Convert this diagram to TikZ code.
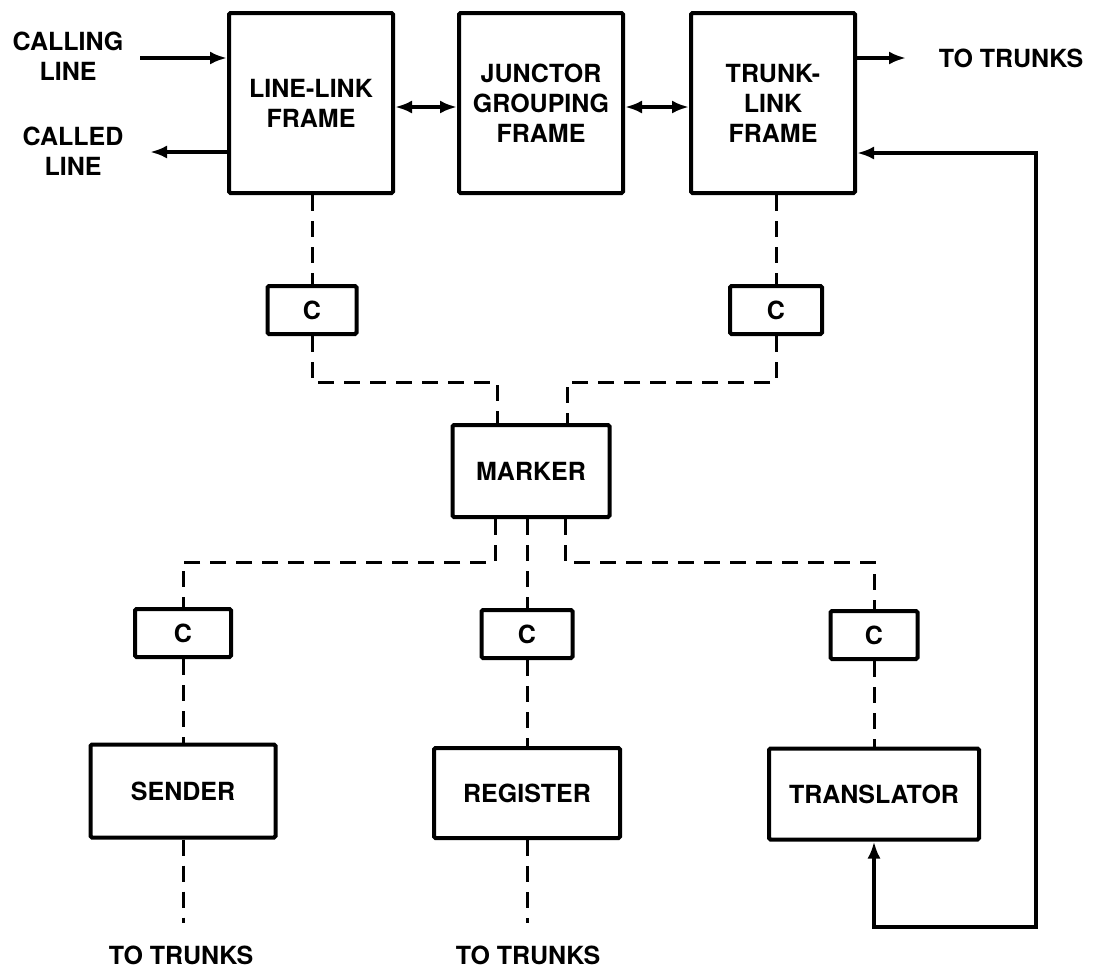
\documentclass[tikz,border=0pt]{standalone}
\usepackage{fontspec}
\setmainfont{TeX Gyre Heros}
\usetikzlibrary{arrows.meta}

\tikzset{
  blockbox/.style={draw, line width=4pt, rounded corners=1.5pt, align=center,
    inner sep=0pt, font=\bfseries\fontsize{25}{30}\selectfont},
  cbox/.style={blockbox, minimum height=48pt},
  ctrl/.style={line width=3pt, dash pattern=on 16pt off 10pt},
  sig/.style={line width=4pt},
  lbl/.style={align=center, inner sep=0pt, font=\bfseries\fontsize{25}{30}\selectfont}
}

\begin{document}
\begin{tikzpicture}[x=1pt, y=-1pt, >={Latex[length=17pt,width=13pt]}]
    \useasboundingbox (0,0) rectangle (1110,970);

    % Switching frames
    \node[blockbox, minimum width=164pt, minimum height=180pt] (linelink) at (311,103) {LINE-LINK\\FRAME};
    \node[blockbox, minimum width=164pt, minimum height=180pt] (junctor) at (541,103) {JUNCTOR\\GROUPING\\FRAME};
    \node[blockbox, minimum width=164pt, minimum height=180pt] (trunklink) at (773,103) {TRUNK-\\LINK\\FRAME};

    % Outside labels
    \node[lbl] (calling) at (68,56) {CALLING\\LINE};
    \node[lbl] (called) at (73,151) {CALLED\\LINE};
    \node[lbl] (trunksTop) at (1011,58) {TO TRUNKS};

    % Connectors
    \node[cbox, minimum width=89pt] (cL) at (312,310) {C};
    \node[cbox, minimum width=92pt] (cR) at (776,310) {C};
    \node[cbox, minimum width=96pt] (cS) at (183,633) {C};
    \node[cbox, minimum width=91pt] (cG) at (527,634) {C};
    \node[cbox, minimum width=87pt] (cT) at (874,635) {C};

    % Common control
    \node[blockbox, minimum width=157pt, minimum height=92pt] (marker) at (531,471) {MARKER};
    \node[blockbox, minimum width=185pt, minimum height=93pt] (sender) at (183,791) {SENDER};
    \node[blockbox, minimum width=186pt, minimum height=90pt] (register) at (527,793) {REGISTER};
    \node[blockbox, minimum width=210pt, minimum height=91pt] (translator) at (874,794) {TRANSLATOR};

    \node[lbl] (trunksS) at (181,955) {TO TRUNKS};
    \node[lbl] (trunksG) at (528,955) {TO TRUNKS};

    % Talking paths
    \coordinate (callin) at (140,58);
    \coordinate (calledout) at (150,152);
    \coordinate (trout) at (906,58);
    \coordinate (lj) at (0,107);
    \draw[sig, ->] (callin) -- (callin -| linelink.west);
    \draw[sig, ->] (calledout -| linelink.west) -- (calledout);
    \draw[sig, <->] (lj -| linelink.east) -- (lj -| junctor.west);
    \draw[sig, <->] (lj -| junctor.east) -- (lj -| trunklink.west);
    \draw[sig, ->] (trout -| trunklink.east) -- (trout);

    % Translator loop
    \coordinate (fbT) at (1036,153);
    \coordinate (fbB) at (1036,927);
    \draw[sig, <->] (fbT -| trunklink.east) -- (fbT) -- (fbB) -| (translator.south);

    % Control leads (dashed)
    \coordinate (mkL) at (497,382);
    \coordinate (mkR) at (567,382);
    \coordinate (mbL) at (495,562);
    \coordinate (mbR) at (565,562);
    \draw[ctrl] (linelink.south -| cL) -- (cL.north);
    \draw[ctrl] (trunklink.south -| cR) -- (cR.north);
    \draw[ctrl] (cL.south) |- (mkL) -- (mkL |- marker.north);
    \draw[ctrl] (cR.south) |- (mkR) -- (mkR |- marker.north);
    \draw[ctrl] (mbL |- marker.south) -- (mbL) -| (cS.north);
    \draw[ctrl] (marker.south -| cG) -- (cG.north);
    \draw[ctrl] (mbR |- marker.south) -- (mbR) -| (cT.north);
    \draw[ctrl] (cS.south) -- (sender.north);
    \draw[ctrl] (cG.south) -- (register.north);
    \draw[ctrl] (cT.south) -- (translator.north);
    \draw[ctrl] (sender.south) -- ([yshift=22pt]trunksS.north -| sender.south);
    \draw[ctrl] (register.south) -- ([yshift=22pt]trunksG.north -| register.south);
\end{tikzpicture}
\end{document}
